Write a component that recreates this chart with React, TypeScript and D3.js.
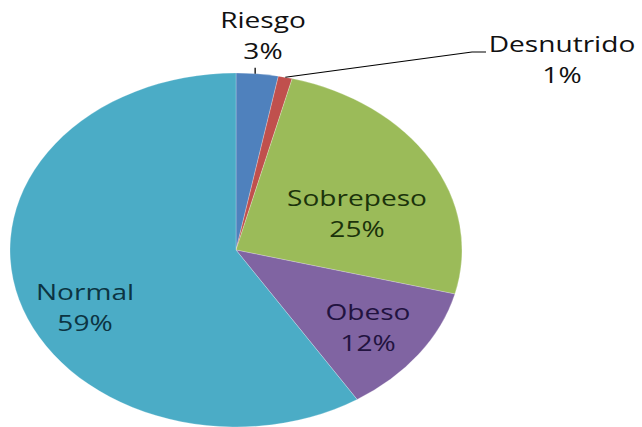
import React from "react";
import * as d3 from "d3";

const categories = ["Riesgo", "Desnutrido", "Sobrepeso", "Obeso", "Normal"];
const values = [3, 1, 25, 12, 59];
const colors = ["#4F81BD", "#C0504D", "#9BBB59", "#8064A2", "#4BACC6"];
const labelColors = ["#111111", "#111111", "#1b330b", "#22133f", "#0c3442"];

// layout (screen coords of label name baseline centre)
const W = 642;
const H = 427;
const SX = 226 / 177; // horizontal stretch of the picture
const CX = 236;
const CY = 250;
const R = 177;
const labelLayout: Record<string, [number, number]> = {
  Riesgo: [263, 28],
  Desnutrido: [562, 52],
  Sobrepeso: [357, 206],
  Obeso: [368, 320],
  Normal: [85, 300],
};
const LINE_GAP = 31;

export default function App() {
  const pie = d3.pie<number>().sort(null).value((d) => d);
  const arcs = pie(values);
  const arc = d3.arc<d3.PieArcDatum<number>>().innerRadius(0).outerRadius(R);
  const total = d3.sum(values);
  const cx = CX / SX;

  const edgePoint = (a: d3.PieArcDatum<number>, t: number, rr: number) => {
    const ang = a.startAngle + (a.endAngle - a.startAngle) * t;
    return [cx + rr * Math.sin(ang), CY - rr * Math.cos(ang)];
  };

  const riesgoPt = edgePoint(arcs[0], 0.45, R);
  const desPt = edgePoint(arcs[1], 0.5, R);

  return (
    <svg
      width={W}
      height={H}
      style={{ position: "absolute", left: 0, top: 0, background: "#fff" }}
    >
      <g transform={`scale(${SX},1)`}>
        <g transform={`translate(${cx},${CY})`}>
          {arcs.map((a, i) => (
            <path
              key={categories[i]}
              d={arc(a) || ""}
              fill={colors[i]}
              stroke="#ffffff"
              strokeOpacity={0.35}
              strokeWidth={0.6}
            />
          ))}
        </g>
        {/* leader lines */}
        <line
          x1={riesgoPt[0]}
          y1={riesgoPt[1]}
          x2={riesgoPt[0]}
          y2={riesgoPt[1] - 6}
          stroke="#000"
          strokeWidth={1}
        />
        <polyline
          points={`${desPt[0]},${desPt[1]} ${472 / SX},52 ${486 / SX},52`}
          fill="none"
          stroke="#000"
          strokeWidth={1}
        />
        {categories.map((c, i) => {
          const [x, y] = labelLayout[c];
          const pct = Math.round((values[i] / total) * 100) + "%";
          return (
            <text
              key={c}
              x={x / SX}
              y={y}
              textAnchor="middle"
              fontFamily="'Open Sans', sans-serif"
              fontSize={22}
              fill={labelColors[i]}
            >
              <tspan x={x / SX} y={y}>
                {c}
              </tspan>
              <tspan x={x / SX} y={y + LINE_GAP}>
                {pct}
              </tspan>
            </text>
          );
        })}
      </g>
    </svg>
  );
}
